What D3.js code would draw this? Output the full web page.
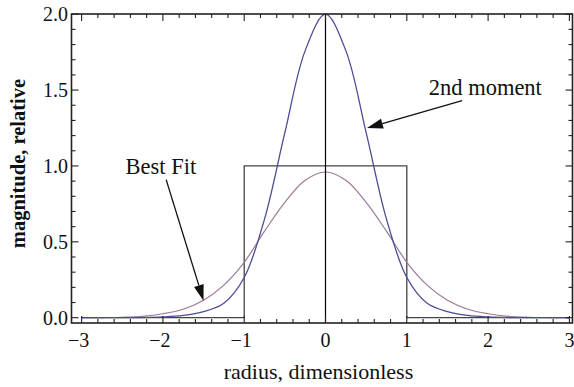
<!DOCTYPE html>
<html>
<head>
<meta charset="utf-8">
<script src="https://cdn.jsdelivr.net/npm/d3@7"></script>
<style>
  html, body { margin: 0; padding: 0; background: #fff; }
  svg { display: block; font-family: "Liberation Serif", "Times New Roman", serif; }
</style>
</head>
<body>
<div id="chart"></div>
<script>
// radius samples (dimensionless)
const radius = [-3, -2.75, -2.5, -2.25, -2, -1.75, -1.5, -1.25, -1, -0.75, -0.5, -0.25, 0,
                0.25, 0.5, 0.75, 1, 1.25, 1.5, 1.75, 2, 2.25, 2.5, 2.75, 3];
// "2nd moment" curve
const secondMoment = [0, 0, 0, 0.001, 0.005, 0.015, 0.04, 0.095, 0.265, 0.65, 1.22, 1.76, 2.0,
                      1.76, 1.22, 0.65, 0.265, 0.095, 0.04, 0.015, 0.005, 0.001, 0, 0, 0];
// "Best Fit" curve
const bestFit = [0.0003, 0.001, 0.003, 0.009, 0.026, 0.056, 0.115, 0.215, 0.365, 0.57, 0.76, 0.905, 0.96,
                 0.905, 0.76, 0.57, 0.365, 0.215, 0.115, 0.056, 0.026, 0.009, 0.003, 0.001, 0.0003];
// top-hat (rect) function corners
const rectX = [-3, -1, -1, 1, 1, 3];
const rectY = [0, 0, 1, 1, 0, 0];

const xTicks = [-3, -2, -1, 0, 1, 2, 3];
const yTicks = [0, 0.5, 1, 1.5, 2];

// annotations: label position, arrow tail and arrow tip (data units)
const notes = [
  { text: "Best Fit", lx: -2.46, ly: 0.95, tail: [-1.96, 0.91], tip: [-1.50, 0.112] },
  { text: "2nd moment", lx: 1.27, ly: 1.465, tail: [1.68, 1.43], tip: [0.51, 1.25] }
];

const W = 574, H = 387;
const frame = { left: 71.5, right: 572.5, top: 14, bottom: 323 };

const x = d3.scaleLinear().domain([-3, 3]).range([81.6, 569.4]);
const y = d3.scaleLinear().domain([0, 2]).range([317.7, 14.2]);

const svg = d3.select("#chart").append("svg")
  .attr("width", W).attr("height", H);

// curves
const line = d3.line().x(d => x(d[0])).y(d => y(d[1])).curve(d3.curveCatmullRom.alpha(0.5));

svg.append("path")
  .datum(rectX.map((v, i) => [v, rectY[i]]))
  .attr("fill", "none").attr("stroke", "#444").attr("stroke-width", 1.3)
  .attr("d", d3.line().x(d => x(d[0])).y(d => y(d[1])));

svg.append("path")
  .datum(radius.map((v, i) => [v, bestFit[i]]))
  .attr("fill", "none").attr("stroke", "#9c7898").attr("stroke-width", 1.2)
  .attr("d", line);

svg.append("path")
  .datum(radius.map((v, i) => [v, secondMoment[i]]))
  .attr("fill", "none").attr("stroke", "#4c4c96").attr("stroke-width", 1.3)
  .attr("d", line);

// vertical axis line at x = 0
svg.append("line")
  .attr("x1", x(0)).attr("x2", x(0))
  .attr("y1", frame.bottom).attr("y2", frame.top)
  .attr("stroke", "#000").attr("stroke-width", 1.2);

// frame with inward ticks
const g = svg.append("g").attr("stroke", "#222").attr("stroke-width", 1.6);
g.append("rect")
  .attr("x", frame.left).attr("y", frame.top)
  .attr("width", frame.right - frame.left).attr("height", frame.bottom - frame.top)
  .attr("fill", "none");

const xMinor = d3.range(-15, 16).map(i => i / 5).filter(v => !xTicks.includes(v));
const yMinor = d3.range(0, 21).map(i => i / 10).filter(v => !yTicks.some(t => Math.abs(t - v) < 1e-9));

function xTick(v, len) {
  g.append("line").attr("x1", x(v)).attr("x2", x(v))
    .attr("y1", frame.bottom).attr("y2", frame.bottom - len).attr("stroke-width", 1.1);
  g.append("line").attr("x1", x(v)).attr("x2", x(v))
    .attr("y1", frame.top).attr("y2", frame.top + len).attr("stroke-width", 1.1);
}
function yTick(v, len) {
  g.append("line").attr("y1", y(v)).attr("y2", y(v))
    .attr("x1", frame.left).attr("x2", frame.left + len).attr("stroke-width", 1.1);
  g.append("line").attr("y1", y(v)).attr("y2", y(v))
    .attr("x1", frame.right).attr("x2", frame.right - len).attr("stroke-width", 1.1);
}
xTicks.forEach(v => xTick(v, 7));
xMinor.forEach(v => xTick(v, 4));
yTicks.forEach(v => yTick(v, 7));
yMinor.forEach(v => yTick(v, 4));

// tick labels
svg.append("g").selectAll("text").data(xTicks).join("text")
  .attr("x", d => x(d) - (d < 0 ? 3 : 0)).attr("y", 347)
  .attr("text-anchor", "middle").attr("font-size", 20).attr("fill", "#111")
  .text(d => d < 0 ? "\u2212" + Math.abs(d) : d);

svg.append("g").selectAll("text").data(yTicks).join("text")
  .attr("x", 68).attr("y", d => y(d)).attr("dy", "0.35em")
  .attr("text-anchor", "end").attr("font-size", 20).attr("fill", "#111")
  .text(d => d3.format(".1f")(d));

// axis titles
svg.append("text")
  .attr("x", 318.5).attr("y", 379)
  .attr("text-anchor", "middle").attr("font-size", 22).attr("fill", "#111")
  .text("radius, dimensionless");

svg.append("text")
  .attr("transform", "translate(25,163.5) rotate(-90)")
  .attr("text-anchor", "middle").attr("font-size", 20.5).attr("font-weight", "bold").attr("fill", "#111")
  .text("magnitude, relative");

// annotations with arrows
notes.forEach(n => {
  svg.append("text")
    .attr("x", x(n.lx)).attr("y", y(n.ly))
    .attr("font-size", 22.5).attr("fill", "#111")
    .text(n.text);

  const x0 = x(n.tail[0]), y0 = y(n.tail[1]);
  const x1 = x(n.tip[0]), y1 = y(n.tip[1]);
  const a = Math.atan2(y1 - y0, x1 - x0);
  const headLen = 16, headW = 5;
  const bx = x1 - headLen * Math.cos(a), by = y1 - headLen * Math.sin(a);
  svg.append("line")
    .attr("x1", x0).attr("y1", y0).attr("x2", bx).attr("y2", by)
    .attr("stroke", "#111").attr("stroke-width", 1.3);
  const px = -Math.sin(a) * headW, py = Math.cos(a) * headW;
  svg.append("path")
    .attr("d", `M${x1},${y1}L${bx + px},${by + py}L${bx - px},${by - py}Z`)
    .attr("fill", "#111");
});
</script>
</body>
</html>
